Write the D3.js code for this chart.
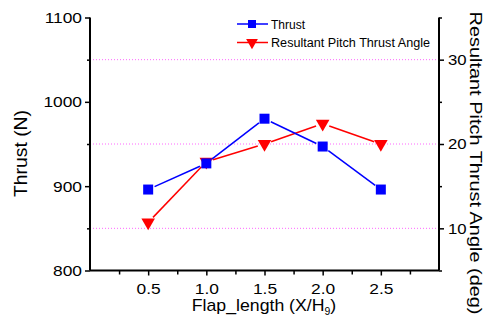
<!DOCTYPE html>
<html><head><meta charset="utf-8">
<script src="https://cdn.jsdelivr.net/npm/d3@7"></script>
<style>body{margin:0;background:#fff;font-family:"Liberation Sans",Arial,sans-serif;}</style>
</head><body>
<script>
const flapLength = [0.5, 1.0, 1.5, 2.0, 2.5];
const thrust = [896, 927, 980, 947, 896];
const pitchAngle = [10.7, 17.9, 20.0, 22.4, 20.0];
const xTicks = [0.5, 1.0, 1.5, 2.0, 2.5];
const yLeftTicks = [800, 900, 1000, 1100];
const yRightTicks = [10, 20, 30];
const gridValues = [850, 950, 1050];

const W = 491, H = 325;
const svg = d3.select("body").append("svg").attr("width", W).attr("height", H);
const L = 90, R = 439, T = 17.5, B = 270.5;
const x = d3.scaleLinear().domain([0, 3]).range([L, R]);
const yL = d3.scaleLinear().domain([800, 1100]).range([B, T]);
const yR = d3.scaleLinear().domain([5, 35]).range([B, T]);

function stretch(sel, f) {
  sel.each(function() {
    const len = this.getComputedTextLength();
    d3.select(this).attr("textLength", len * f).attr("lengthAdjust", "spacingAndGlyphs");
  });
}

// grid
svg.append("g").selectAll("line").data(gridValues).join("line")
  .attr("x1", L).attr("x2", R).attr("y1", d => yL(d)).attr("y2", d => yL(d))
  .attr("stroke", "#ff66ff").attr("stroke-width", 1).attr("stroke-dasharray", "1,2");

const fs = "15.5px";
// bottom axis
const gx = svg.append("g").attr("transform", `translate(0,${B})`);
gx.call(d3.axisBottom(x).tickValues(xTicks).tickFormat(d3.format(".1f")).tickSize(5).tickPadding(7));
gx.append("g").call(d3.axisBottom(x).tickValues([0.25,0.75,1.25,1.75,2.25,2.75]).tickFormat("").tickSize(4));
// left axis
const gl = svg.append("g").attr("transform", `translate(${L},0)`);
gl.call(d3.axisLeft(yL).tickValues(yLeftTicks).tickFormat(d3.format("d")).tickSize(5).tickPadding(3));
gl.append("g").call(d3.axisLeft(yL).tickValues(gridValues).tickFormat("").tickSize(3));
// right axis
const gr = svg.append("g").attr("transform", `translate(${R},0)`);
gr.call(d3.axisRight(yR).tickValues(yRightTicks).tickFormat(d3.format("d")).tickSize(5).tickPadding(4));
gr.append("g").call(d3.axisRight(yR).tickValues([5,15,25,35]).tickFormat("").tickSize(3));

svg.selectAll(".domain").attr("stroke", "#000").attr("stroke-width", 2);
svg.selectAll(".tick line").attr("stroke", "#000").attr("stroke-width", 1.5);
svg.selectAll(".tick text").attr("font-size", fs).attr("font-family", "Liberation Sans, Arial, sans-serif").attr("fill", "#000");
stretch(gx.selectAll(".tick text"), 1.12);
stretch(gl.selectAll(".tick text"), 1.12);
stretch(gr.selectAll(".tick text"), 1.08);
gx.selectAll(".domain").attr("d", `M${L},0H${R}`);
gl.selectAll(".domain").attr("d", `M0,${B}V${T}`);
gr.selectAll(".domain").attr("d", `M0,${B}V${T}`);
gl.selectAll("g g .domain").remove();
gx.selectAll("g g .domain").remove();
gr.selectAll("g g .domain").remove();

// series lines with gaps near markers
function gappedSegments(xs, ys, yScale, gap) {
  const segs = [];
  for (let i = 0; i < xs.length - 1; i++) {
    const x1 = x(xs[i]), y1 = yScale(ys[i]), x2 = x(xs[i+1]), y2 = yScale(ys[i+1]);
    const dx = x2 - x1, dy = y2 - y1, len = Math.hypot(dx, dy);
    const ux = dx/len, uy = dy/len;
    segs.push([x1+ux*gap, y1+uy*gap, x2-ux*gap, y2-uy*gap]);
  }
  return segs;
}
function drawSeries(ys, yScale, color, symbolType, size, gap) {
  const g = svg.append("g");
  g.selectAll("line").data(gappedSegments(flapLength, ys, yScale, gap)).join("line")
    .attr("x1", d => d[0]).attr("y1", d => d[1]).attr("x2", d => d[2]).attr("y2", d => d[3])
    .attr("stroke", color).attr("stroke-width", 1.5);
  g.selectAll("path").data(ys).join("path")
    .attr("d", d3.symbol().type(symbolType).size(size))
    .attr("transform", (d, i) => `translate(${x(flapLength[i])},${yScale(d)})` + (symbolType === d3.symbolTriangle ? " rotate(180)" : ""))
    .attr("fill", color);
}
drawSeries(pitchAngle, yR, "#ff0000", d3.symbolTriangle, 80, 7);
drawSeries(thrust, yL, "#0000ff", d3.symbolSquare, 100, 7);

// axis titles
svg.append("text").attr("transform", `translate(27,153.5) rotate(-90)`).attr("text-anchor", "middle")
  .attr("font-size", "18px").attr("textLength", 87).attr("lengthAdjust", "spacingAndGlyphs").text("Thrust (N)");
svg.append("text").attr("transform", `translate(469.5,163) rotate(90)`).attr("text-anchor", "middle")
  .attr("font-size", "17px").attr("textLength", 303).attr("lengthAdjust", "spacingAndGlyphs").text("Resultant Pitch Thrust Angle (deg)");
const xt = svg.append("text").attr("x", 264).attr("y", 311).attr("text-anchor", "middle").attr("font-size", "17px");
xt.append("tspan").text("Flap_length (X/H");
xt.append("tspan").attr("font-size", "10px").attr("dy", 4).text("9");
xt.append("tspan").attr("dy", -4).text(")");
stretch(xt, 1.04);

// legend
const legend = [
  {label: "Thrust", color: "#0000ff", sym: d3.symbolSquare, size: 64, rot: false, len: 34},
  {label: "Resultant Pitch Thrust Angle", color: "#ff0000", sym: d3.symbolTriangle, size: 60, rot: true, len: 159}
];
const lg = svg.append("g");
legend.forEach((d, i) => {
  const yy = 24 + i * 18.5;
  lg.append("line").attr("x1", 237).attr("x2", 268).attr("y1", yy).attr("y2", yy).attr("stroke", d.color).attr("stroke-width", 1.5);
  lg.append("path").attr("d", d3.symbol().type(d.sym).size(d.size)())
    .attr("transform", `translate(252,${yy})` + (d.rot ? " rotate(180)" : "")).attr("fill", d.color);
  lg.append("text").attr("x", 271).attr("y", yy + 4.5).attr("font-size", "12px")
    .attr("textLength", d.len).attr("lengthAdjust", "spacingAndGlyphs").text(d.label);
});
</script>
</body></html>
